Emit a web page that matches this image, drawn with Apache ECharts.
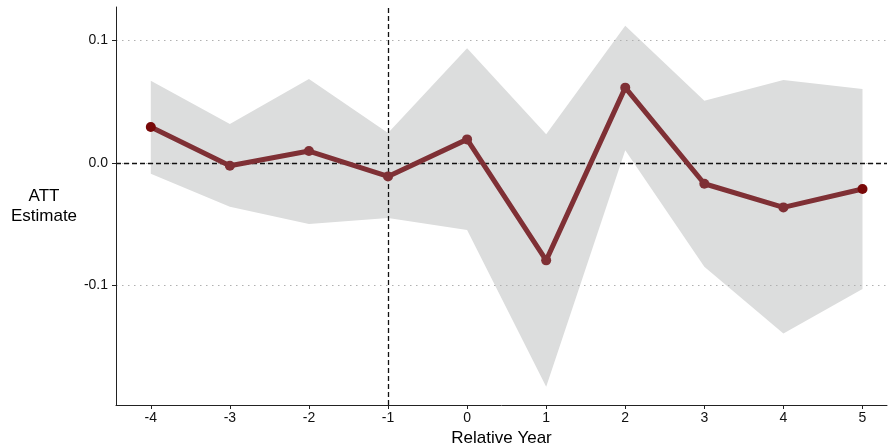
<!DOCTYPE html>
<html>
<head>
<meta charset="utf-8">
<script src="https://cdn.jsdelivr.net/npm/echarts@6/dist/echarts.min.js"></script>
<style>
  html, body { margin: 0; padding: 0; background: #fff; }
  #chart { width: 888px; height: 447px; }
</style>
</head>
<body>
<div id="chart"></div>
<script>
// Event-study estimates by year relative to treatment
const years = [-4, -3, -2, -1, 0, 1, 2, 3, 4, 5];
const att = [0.0294, -0.0022, 0.0098, -0.0109, 0.0193, -0.0794, 0.0615, -0.0169, -0.0362, -0.0212];
const ciLower = [-0.0087, -0.0357, -0.0498, -0.0449, -0.0547, -0.1826, 0.0104, -0.0847, -0.1390, -0.1027];
const ciUpper = [0.0672, 0.0318, 0.0686, 0.0245, 0.0936, 0.0234, 0.1121, 0.0509, 0.0678, 0.0604];
const yTicks = [-0.1, 0.0, 0.1];

const font = 'Liberation Sans, Arial, Helvetica, sans-serif';

const attPts = years.map((x, i) => {
  const pt = { value: [x, att[i]] };
  if (i === 0 || i === years.length - 1) pt.itemStyle = { color: '#780808' };
  return pt;
});

// Confidence band drawn as one polygon: upper bound left to right, lower bound back
function renderBand(params, api) {
  const pts = [];
  for (let i = 0; i < years.length; i++) pts.push(api.coord([years[i], ciUpper[i]]));
  for (let i = years.length - 1; i >= 0; i--) pts.push(api.coord([years[i], ciLower[i]]));
  return {
    type: 'polygon',
    shape: { points: pts },
    style: { fill: '#dcdddd', stroke: null }
  };
}

const chart = echarts.init(document.getElementById('chart'), null, { renderer: 'canvas' });
chart.setOption({
  animation: false,
  backgroundColor: '#ffffff',
  grid: { left: 116, right: 1, top: 7, bottom: 42, containLabel: false, outerBoundsMode: 'none' },
  xAxis: {
    type: 'value',
    min: -4.44,
    max: 5.31,
    name: 'Relative Year',
    nameLocation: 'middle',
    nameGap: 23,
    nameTextStyle: { fontFamily: font, fontSize: 17, color: '#000' },
    axisLine: { show: true, onZero: false, lineStyle: { color: '#222', width: 1 } },
    axisTick: { show: true, length: 4, lineStyle: { color: '#222' }, customValues: years },
    axisLabel: { fontFamily: font, fontSize: 14, color: '#111', margin: 6, customValues: years,
      formatter: v => String(v) },
    splitLine: { show: false },
    z: 10
  },
  yAxis: {
    type: 'value',
    min: -0.1974,
    max: 0.1273,
    name: 'ATT\nEstimate',
    nameLocation: 'middle',
    nameRotate: 0,
    nameGap: 72,
    nameTextStyle: { fontFamily: font, fontSize: 17, color: '#000', align: 'center', lineHeight: 20 },
    axisLine: { show: true, onZero: false, lineStyle: { color: '#222', width: 1 } },
    axisTick: { show: true, length: 4, lineStyle: { color: '#222' }, customValues: yTicks },
    axisLabel: { fontFamily: font, fontSize: 14, color: '#111', margin: 8, customValues: yTicks,
      formatter: v => v.toFixed(1) },
    splitLine: { show: false },
    z: 10
  },
  series: [
    {
      type: 'custom',
      data: [0],
      renderItem: renderBand,
      silent: true,
      z: 1
    },
    {
      // gridlines at the labelled ticks
      type: 'line',
      data: [],
      silent: true,
      z: 2,
      markLine: {
        silent: true,
        symbol: 'none',
        label: { show: false },
        lineStyle: { color: '#b0b0b0', type: [1.5, 4.5], width: 1 },
        data: yTicks.map(v => ({ yAxis: v }))
      }
    },
    {
      type: 'line',
      data: attPts,
      symbol: 'circle',
      symbolSize: 10,
      itemStyle: { color: '#7f3035' },
      lineStyle: { color: '#7f3035', width: 5 },
      z: 5,
      markLine: {
        silent: true,
        symbol: 'none',
        label: { show: false },
        lineStyle: { color: '#111', type: [5, 3], width: 1.3 },
        data: [{ yAxis: 0 }, { xAxis: -1 }]
      }
    }
  ]
});
</script>
</body>
</html>
